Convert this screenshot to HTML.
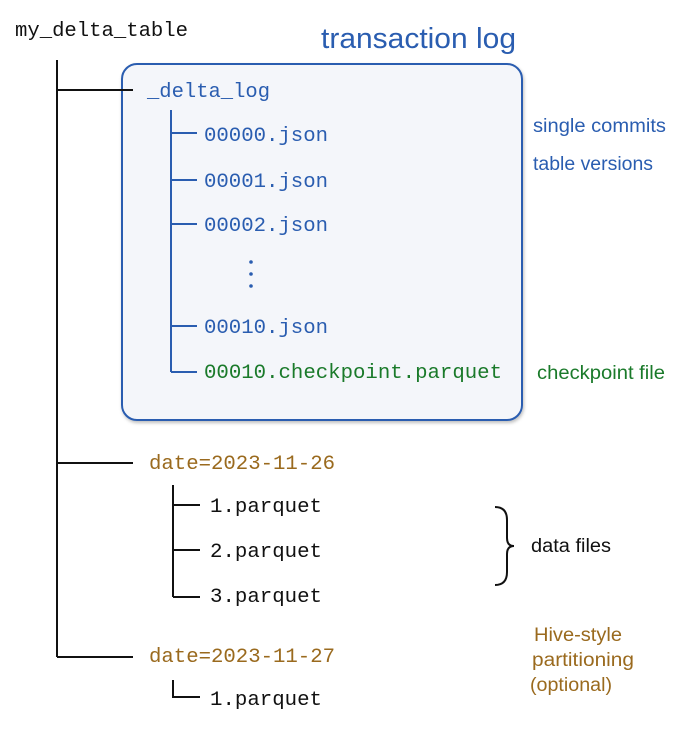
<!DOCTYPE html>
<html><head><meta charset="utf-8"><style>html,body{margin:0;padding:0;background:#fff}</style></head>
<body>
<svg width="690" height="737" viewBox="0 0 690 737" xmlns="http://www.w3.org/2000/svg">
<defs><filter id="sh" x="-5%" y="-5%" width="110%" height="110%"><feDropShadow dx="1" dy="2" stdDeviation="1.5" flood-color="#000" flood-opacity="0.25"/></filter></defs>
<rect x="122" y="64" width="400" height="356" rx="15" fill="#f4f6fa" stroke="#2a5db0" stroke-width="2" filter="url(#sh)"/>
<g font-family="Liberation Mono, monospace" font-size="20">
<text x="15" y="36" fill="#111" textLength="173" lengthAdjust="spacingAndGlyphs">my_delta_table</text>
<text x="147" y="97" fill="#2a5db0" textLength="123" lengthAdjust="spacingAndGlyphs">_delta_log</text>
<text x="204" y="141" fill="#2a5db0" textLength="124" lengthAdjust="spacingAndGlyphs">00000.json</text>
<text x="204" y="187" fill="#2a5db0" textLength="124" lengthAdjust="spacingAndGlyphs">00001.json</text>
<text x="204" y="231" fill="#2a5db0" textLength="124" lengthAdjust="spacingAndGlyphs">00002.json</text>
<text x="204" y="333" fill="#2a5db0" textLength="124" lengthAdjust="spacingAndGlyphs">00010.json</text>
<text x="204" y="378" fill="#1a7a2a" textLength="298" lengthAdjust="spacingAndGlyphs">00010.checkpoint.parquet</text>
<text x="149" y="469" fill="#9a6a1e" textLength="186" lengthAdjust="spacingAndGlyphs">date=2023-11-26</text>
<text x="210" y="512" fill="#111" textLength="112" lengthAdjust="spacingAndGlyphs">1.parquet</text>
<text x="210" y="557" fill="#111" textLength="112" lengthAdjust="spacingAndGlyphs">2.parquet</text>
<text x="210" y="602" fill="#111" textLength="112" lengthAdjust="spacingAndGlyphs">3.parquet</text>
<text x="149" y="662" fill="#9a6a1e" textLength="186" lengthAdjust="spacingAndGlyphs">date=2023-11-27</text>
<text x="210" y="705" fill="#111" textLength="112" lengthAdjust="spacingAndGlyphs">1.parquet</text>
</g>
<g stroke="#111" stroke-width="2" fill="none">
<path d="M57 60V657M57 90H133M57 463H133M57 657H133"/>
<path d="M173 485V597M173 505H200M173 550H200M173 597H200"/>
<path d="M173 680V697H200"/>
<path d="M495 507Q507 507 507 520V538Q507 546 514 546Q507 546 507 554V572Q507 585 495 585"/>
</g>
<g stroke="#2a5db0" stroke-width="2" fill="none">
<path d="M171 110V372M171 133H197M171 180H197M171 224H197M171 326H197M171 372H197"/>
</g>
<g fill="#2a5db0"><circle cx="251" cy="262" r="1.8"/><circle cx="251" cy="274" r="1.8"/><circle cx="251" cy="286" r="1.8"/></g>
<g font-family="Liberation Sans, sans-serif">
<text x="321" y="48" font-size="29" fill="#2a5db0" textLength="195" lengthAdjust="spacingAndGlyphs">transaction log</text>
<text x="533" y="132" font-size="19" fill="#2a5db0" textLength="133" lengthAdjust="spacingAndGlyphs">single commits</text>
<text x="533" y="170" font-size="19" fill="#2a5db0" textLength="120" lengthAdjust="spacingAndGlyphs">table versions</text>
<text x="537" y="379" font-size="19" fill="#1a7a2a" textLength="128" lengthAdjust="spacingAndGlyphs">checkpoint file</text>
<text x="531" y="552" font-size="19" fill="#111" textLength="80" lengthAdjust="spacingAndGlyphs">data files</text>
<text x="534" y="641" font-size="19" fill="#9a6a1e" textLength="88" lengthAdjust="spacingAndGlyphs">Hive-style</text>
<text x="532" y="666" font-size="19" fill="#9a6a1e" textLength="102" lengthAdjust="spacingAndGlyphs">partitioning</text>
<text x="530" y="691" font-size="19" fill="#9a6a1e" textLength="82" lengthAdjust="spacingAndGlyphs">(optional)</text>
</g>
</svg>
</body></html>
